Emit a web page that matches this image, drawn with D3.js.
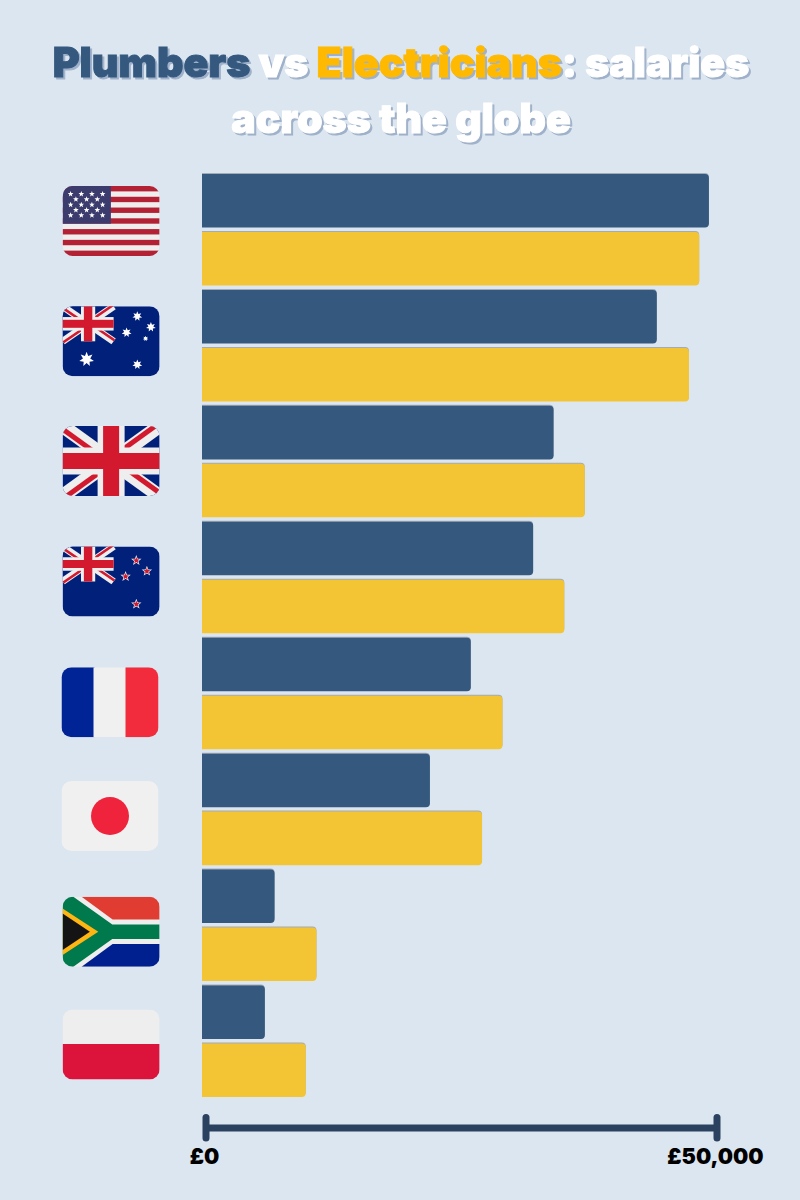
<!DOCTYPE html>
<html>
<head>
<meta charset="utf-8">
<script src="https://cdn.jsdelivr.net/npm/d3@7/dist/d3.min.js"></script>
<style>
html, body { margin: 0; padding: 0; background: #dce6f0; }
svg { display: block; }
.title { font-family: Inter, sans-serif; font-weight: 900; font-size: 41px; text-anchor: middle; paint-order: stroke; stroke-width: 1px; filter: drop-shadow(2px 2.5px 0 #9fb1ca); }
.bars path { filter: drop-shadow(0 -1px 0 rgba(90, 100, 110, .45)); }
.axis text { font-family: Inter, sans-serif; font-weight: 900; font-size: 21.5px; fill: #000; }
</style>
</head>
<body>
<svg id="chart" width="800" height="1200"></svg>
<script>
/* data */
var countries = ['USA', 'Australia', 'UK', 'New Zealand', 'France', 'Japan', 'South Africa', 'Poland'];
var plumbers = [49600, 44500, 34400, 32400, 26300, 22300, 7100, 6150];
var electricians = [48650, 47650, 37450, 35450, 29400, 27400, 11200, 10150];
var seriesNames = ['Plumbers', 'Electricians'];
var axisTicks = [0, 50000];
var axisLabels = ['£0', '£50,000'];

var blue = '#35587f';
var yellow = '#f3c535';
var titleYellow = '#ffb900';
var navy = '#00207a';
var red = '#d2192d';
var offWhite = '#eeeeee';

var svg = d3.select('#chart');
svg.append('rect').attr('width', 800).attr('height', 1200).attr('fill', '#dce6f0');

/* title */
function drawTitle(y, parts){
    var t = svg.append('text').attr('class', 'title').attr('x', 401).attr('y', y);
    parts.forEach(function(p){
        t.append('tspan').attr('fill', p[1]).attr('stroke', p[1]).text(p[0]);
    });
}
drawTitle(77, [['Plumbers', blue], [' vs ', '#fff'], ['Electricians', titleYellow], [': salaries', '#fff']]);
drawTitle(133, [['across the globe', '#fff']]);

/* scales */
var x = d3.scaleLinear().domain([0, 50000]).range([0, 511]);
var y0 = d3.scaleBand().domain(countries).range([174, 1097]).paddingInner(0.0384);
var y1 = d3.scaleBand().domain(seriesNames).range([0, y0.bandwidth()]).paddingInner(0.0768);

/* bars, square on the left and rounded on the right */
function barPath(w, h){
    var r = Math.min(4, w);
    return `M0,0H${w - r}Q${w},0 ${w},${r}V${h - r}Q${w},${h} ${w - r},${h}H0Z`;
}
var bars = svg.append('g').attr('class', 'bars').attr('transform', 'translate(202,0)');
[[plumbers, 'Plumbers', blue], [electricians, 'Electricians', yellow]].forEach(function(s){
    bars.selectAll('path.' + s[1])
        .data(s[0])
        .join('path')
        .attr('class', s[1])
        .attr('transform', (d, i) => `translate(0,${y0(countries[i]) + y1(s[1])})`)
        .attr('d', d => barPath(x(d), y1.bandwidth()))
        .attr('fill', s[2]);
});

/* axis */
var axis = svg.append('g').attr('class', 'axis').attr('transform', 'translate(205.5,1127.5)');
axis.call(d3.axisBottom(x).tickValues(axisTicks).tickSize(0).tickSizeOuter(0).tickFormat((d, i) => axisLabels[i]));
axis.select('.domain').attr('stroke', '#2a4160').attr('stroke-width', 7);
axis.selectAll('.tick line')
    .attr('y1', -10).attr('y2', 10.5)
    .attr('stroke', '#2a4160').attr('stroke-width', 7).attr('stroke-linecap', 'round');
axis.selectAll('.tick text').attr('x', -1.5).attr('y', 36.5).attr('dy', 0);

/* flags, drawn on a 97x70 box */
var defs = svg.append('defs');
defs.append('clipPath').attr('id', 'flagClip')
    .append('rect').attr('width', 97).attr('height', 70).attr('rx', 10);

function box(g, fill, bx, by, w, h){
    g.append('rect').attr('x', bx).attr('y', by).attr('width', w).attr('height', h).attr('fill', fill);
}
function poly(g, fill, pts){
    g.append('polygon').attr('points', pts.join(' ')).attr('fill', fill);
}
function star(g, cx, cy, r, n, inner, fill, stroke){
    var pts = d3.range(n * 2).map(function(i){
        var a = Math.PI * i / n - Math.PI / 2;
        var rr = i % 2 ? r * inner : r;
        return [cx + rr * Math.cos(a), cy + rr * Math.sin(a)];
    });
    var p = g.append('polygon').attr('points', pts.join(' ')).attr('fill', fill);
    if (stroke) p.attr('stroke', stroke).attr('stroke-width', 1.3).attr('paint-order', 'stroke');
}
function unionJack(g, sx, sy){
    var j = g.append('g').attr('transform', `scale(${sx},${sy})`);
    box(j, navy, 0, 0, 97, 70);
    [[0, 0], [97, 0], [0, 70], [97, 70]].forEach(function(c){
        j.append('line').attr('x1', c[0]).attr('y1', c[1]).attr('x2', 48.5).attr('y2', 35)
            .attr('stroke', offWhite).attr('stroke-width', 14);
    });
    [[0, 0, -.585, .811], [97, 0, -.585, -.811], [97, 70, .585, -.811], [0, 70, .585, .811]].forEach(function(c){
        j.append('line')
            .attr('x1', c[0] + c[2] * 2.5).attr('y1', c[1] + c[3] * 2.5)
            .attr('x2', 48.5 + c[2] * 2.5).attr('y2', 35 + c[3] * 2.5)
            .attr('stroke', red).attr('stroke-width', 5);
    });
    box(j, offWhite, 35, 0, 27, 70);
    box(j, offWhite, 0, 21.5, 97, 27);
    box(j, red, 40.5, 0, 16, 70);
    box(j, red, 0, 27, 97, 16);
}

var flagDraw = {
    'USA': function(g){
        box(g, offWhite, 0, 0, 97, 70);
        d3.range(0, 13, 2).forEach(function(i){ box(g, '#b22234', 0, i * 70 / 13, 97, 70 / 13); });
        box(g, '#3c3b6e', 0, 0, 48.3, 37.7);
        [8, 18.7, 29.3, 40].forEach(function(sx){
            [8, 18.7, 29.3].forEach(function(sy){ star(g, sx, sy, 3, 5, .42, '#fff'); });
        });
        [13.3, 24, 34.7].forEach(function(sx){
            [13.3, 24].forEach(function(sy){ star(g, sx, sy, 3, 5, .42, '#fff'); });
        });
    },
    'Australia': function(g){
        box(g, navy, 0, 0, 97, 70);
        unionJack(g, 51 / 97, 35 / 70);
        [[74.7, 10, 5], [88.3, 20.7, 5], [64, 26.3, 5], [83, 32.3, 2.8], [74.7, 58.3, 5]].forEach(function(s){
            star(g, s[0], s[1], s[2], 7, .5, '#fff');
        });
        star(g, 24, 53, 7.5, 7, .5, '#fff');
    },
    'UK': function(g){
        unionJack(g, 1, 1);
    },
    'New Zealand': function(g){
        box(g, navy, 0, 0, 97, 70);
        unionJack(g, 51 / 97, 35 / 70);
        [[73.7, 14], [84.3, 24.7], [63, 30], [73.7, 57.7]].forEach(function(s){
            star(g, s[0], s[1], 3.6, 5, .42, red, '#eee');
        });
    },
    'France': function(g){
        box(g, '#002395', 0, 0, 33, 70);
        box(g, '#f0f0f0', 32, 0, 33, 70);
        box(g, '#f22c3d', 64, 0, 33, 70);
    },
    'Japan': function(g){
        box(g, '#f0f0f0', 0, 0, 97, 70);
        g.append('circle').attr('cx', 48.5).attr('cy', 35).attr('r', 19).attr('fill', '#ef233c');
    },
    'South Africa': function(g){
        box(g, offWhite, 0, 0, 97, 70);
        poly(g, '#e03c31', [[19, 0], [50, 22.7], [97, 22.7], [97, 0]]);
        poly(g, '#00208f', [[19, 70], [50, 47.3], [97, 47.3], [97, 70]]);
        poly(g, '#007a4d', [[0, 0], [10.7, 0], [49.7, 27.7], [97, 27.7], [97, 42.3], [49.7, 42.3], [10.7, 70], [0, 70]]);
        poly(g, '#ffb612', [[0, 11.7], [35.7, 35], [0, 58.3]]);
        poly(g, '#141414', [[0, 16.7], [27.3, 35], [0, 53.3]]);
    },
    'Poland': function(g){
        box(g, offWhite, 0, 0, 97, 35);
        box(g, '#dc143c', 0, 34.5, 97, 35.5);
    }
};

/* the flags sit by hand, not quite on the bars */
var flagLeft = [62.6, 62.6, 62.6, 62.6, 61.5, 61.5, 62.6, 62.6];
var flagTop = [186, 306.3, 426, 546.5, 667.3, 781, 896.8, 1009.5];

countries.forEach(function(c, i){
    var g = svg.append('g')
        .attr('transform', `translate(${flagLeft[i]},${flagTop[i]})`)
        .attr('clip-path', 'url(#flagClip)');
    flagDraw[c](g);
});
</script>
</body>
</html>
